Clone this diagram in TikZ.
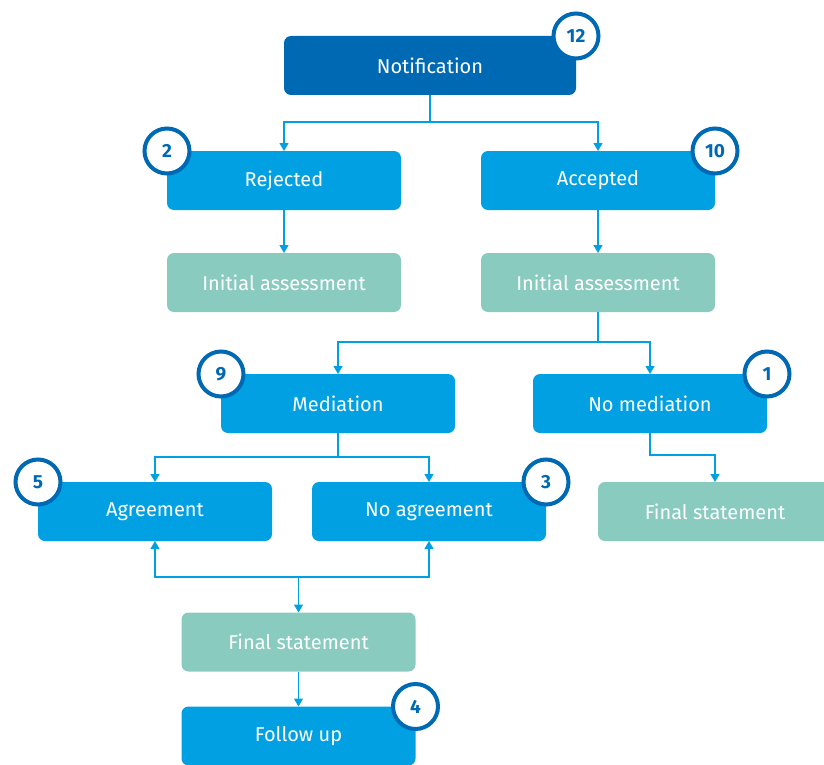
\documentclass[tikz,border=0pt]{standalone}
\usepackage{fontspec}
\setmainfont{Fira Sans}
\usepackage{tikz}
\usetikzlibrary{arrows.meta, positioning}
\definecolor{navyblue}{RGB}{0,105,180}
\definecolor{skyblue}{RGB}{0,160,227}
\definecolor{seagreen}{RGB}{138,203,192}

\begin{document}
\begin{tikzpicture}[
  x=1pt, y=-1pt,
  font=\fontsize{20}{24}\selectfont,
  box/.style={rectangle, rounded corners=7pt, fill=skyblue, text=white,
              minimum width=234pt, minimum height=59pt, inner sep=0pt, outer sep=0pt},
  topbox/.style={box, fill=navyblue, minimum width=292pt},
  evalbox/.style={box, fill=seagreen},
  badge/.style={circle, draw=navyblue, line width=4pt, fill=white, text=navyblue,
                minimum size=45pt, inner sep=0pt, font=\fontsize{19}{21}\selectfont\bfseries},
  arr/.style={-{Triangle[width=9pt,length=8pt]}, line width=1.3pt, skyblue},
  arr2/.style={{Triangle[width=9pt,length=8pt]}-{Triangle[width=9pt,length=8pt]}, line width=1.3pt, skyblue},
]
\clip (0,0) rectangle (824,765);

\node[topbox] (notif) at (430,65.5) {Notification};

\node[box] (rej) at (284,180.5) {Rejected};
\node[box] (acc) at (598,180.5) {Accepted};

\node[evalbox, below=43pt of rej] (assessL) {Initial assessment};
\node[evalbox, below=43pt of acc] (assessR) {Initial assessment};

\node[box] (med) at (338,403.5) {Mediation};
\node[box] (nomed) at (650,403.5) {No mediation};

\node[box] (agree) at (155,511.5) {Agreement};
\node[box] (noagree) at (429,511.5) {No agreement};
\node[evalbox] (finalR) at (715,511.5) {Final statement};

\node[evalbox] (finalB) at (298.5,642) {Final statement};
\node[box, below=35pt of finalB] (follow) {Follow up};

\coordinate (join) at (298.5,577.5);

\draw[arr] (notif.south) -- ++(0,27) -| (rej.north);
\draw[arr] (notif.south) -- ++(0,27) -| (acc.north);
\draw[arr] (rej) -- (assessL);
\draw[arr] (acc) -- (assessR);
\draw[arr] (assessR.south) -- ++(0,30) -| (med.north);
\draw[arr] (assessR.south) -- ++(0,30) -| (nomed.north);
\draw[arr] (med.south) -- ++(0,24) -| (agree.north);
\draw[arr] (med.south) -- ++(0,24) -| (noagree.north);
\draw[arr] (nomed.south) -- ++(0,22) -| (finalR.north);
\draw[arr2] (agree.south) -- ++(0,36) -| (noagree.south);
\draw[arr] (join) -- (finalB);
\draw[arr] (finalB) -- (follow);

\node[badge] (b12) at (notif.north east) {12};
\node[badge] (b2) at (rej.north west) {2};
\node[badge] (b10) at (acc.north east) {10};
\node[badge] (b9) at (med.north west) {9};
\node[badge] (b1) at (nomed.north east) {1};
\node[badge] (b5) at (agree.north west) {5};
\node[badge] (b3) at (noagree.north east) {3};
\node[badge] (b4) at (follow.north east) {4};

\end{tikzpicture}
\end{document}
